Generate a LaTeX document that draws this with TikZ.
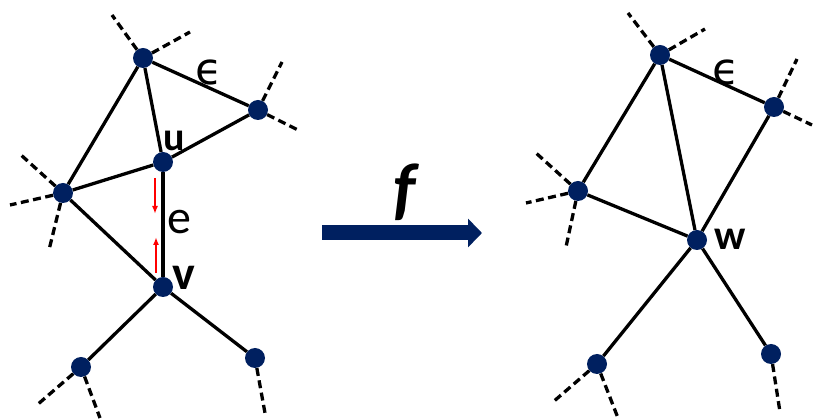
\documentclass[tikz,border=0pt]{standalone}
\usepackage{fontspec}
\setmainfont{Carlito}
\newfontfamily\symfont{DejaVu Sans}
\usetikzlibrary{arrows.meta,calc,positioning}
\definecolor{navy}{RGB}{0,32,96}
\tikzset{vtx/.style={circle, fill=navy, inner sep=0pt, minimum size=20pt}}
\tikzset{edge/.style={draw, line width=3.3pt}}
\tikzset{stub/.style={draw, line width=3.3pt, dash pattern=on 8pt off 4.5pt}}
\tikzset{lbl/.style={inner sep=0pt, font=\bfseries\fontsize{42}{46}\selectfont}}
\tikzset{flip/.style={draw=red, line width=2pt, -{Latex[length=8pt,width=6pt]}}}
\tikzset{mapto/.style={draw=navy, line width=15pt, -{Triangle[length=14pt,width=28pt]}}}

\begin{document}
\begin{tikzpicture}[x=1pt, y=-1pt]
\useasboundingbox (0,0) rectangle (815,419);
% graph before contraction
\node[vtx] (a) at (143,58) {};
\node[vtx] (b) at (258,110) {};
\node[vtx] (u) at (163,162) {};
\node[vtx] (c) at (63,193) {};
\node[vtx] (v) at (163,287) {};
\node[vtx] (d) at (81,367) {};
\node[vtx] (g) at (255,358) {};
\coordinate (a1) at (112,15);
\coordinate (a2) at (190,32);
\coordinate (b1) at (282,62);
\coordinate (b2) at (298,130);
\coordinate (c1) at (21,155);
\coordinate (c2) at (10,205);
\coordinate (c3) at (49,250);
\coordinate (d1) at (37,405);
\coordinate (d2) at (100,418);
\coordinate (g1) at (265,413);
\path[edge] (a) -- (b);
\path[edge] (a) -- (u);
\path[edge] (a) -- (c);
\path[edge] (u) -- (b);
\path[edge] (u) -- (c);
\path[edge] (u) -- (v);
\path[edge] (c) -- (v);
\path[edge] (v) -- (d);
\path[edge] (v) -- (g);
\path[stub] (a) -- (a1);
\path[stub] (a) -- (a2);
\path[stub] (b) -- (b1);
\path[stub] (b) -- (b2);
\path[stub] (c) -- (c1);
\path[stub] (c) -- (c2);
\path[stub] (c) -- (c3);
\path[stub] (d) -- (d1);
\path[stub] (d) -- (d2);
\path[stub] (g) -- (g1);
\node[lbl, font=\bfseries\fontsize{40}{44}\selectfont] (ul) at (174,141) {u};
\node[lbl, font=\bfseries\fontsize{48}{52}\selectfont] (vl) at (184,278) {v};
\node[lbl, font=\fontsize{48}{52}\selectfont] (el) at (179,222) {e};
\node[lbl, font=\symfont\fontsize{44}{48}\selectfont] (eps) at (209,72) {ϵ};
\path[flip] ($(u)+(-8,16)$) -- ($(u)+(-8,52)$);
\path[flip] ($(v)+(-7,-14)$) -- ($(v)+(-7,-50)$);
% the map
\coordinate (fs) at (322,233);
\coordinate (fe) at (482,233);
\path[mapto] (fs) -- (fe);
\node[lbl, font=\bfseries\itshape\fontsize{70}{74}\selectfont] (fl) at (405,192) {f};
% graph after contraction
\node[vtx] (p) at (660,55) {};
\node[vtx] (q) at (774,107) {};
\node[vtx] (r) at (578,191) {};
\node[vtx] (w) at (697,240) {};
\node[vtx] (s) at (597,364) {};
\node[vtx] (t) at (771,354) {};
\coordinate (p1) at (628,13);
\coordinate (p2) at (705,29);
\coordinate (q1) at (797,59);
\coordinate (q2) at (812,125);
\coordinate (r1) at (536,153);
\coordinate (r2) at (526,203);
\coordinate (r3) at (566,247);
\coordinate (s1) at (553,402);
\coordinate (s2) at (618,418);
\coordinate (t1) at (780,412);
\path[edge] (p) -- (q);
\path[edge] (p) -- (r);
\path[edge] (p) -- (w);
\path[edge] (q) -- (w);
\path[edge] (r) -- (w);
\path[edge] (w) -- (s);
\path[edge] (w) -- (t);
\path[stub] (p) -- (p1);
\path[stub] (p) -- (p2);
\path[stub] (q) -- (q1);
\path[stub] (q) -- (q2);
\path[stub] (r) -- (r1);
\path[stub] (r) -- (r2);
\path[stub] (r) -- (r3);
\path[stub] (s) -- (s1);
\path[stub] (s) -- (s2);
\path[stub] (t) -- (t1);
\node[lbl] (wl) at (730,239) {w};
\node[lbl, font=\symfont\fontsize{44}{48}\selectfont] (eps2) at (726,72) {ϵ};
\end{tikzpicture}
\end{document}
